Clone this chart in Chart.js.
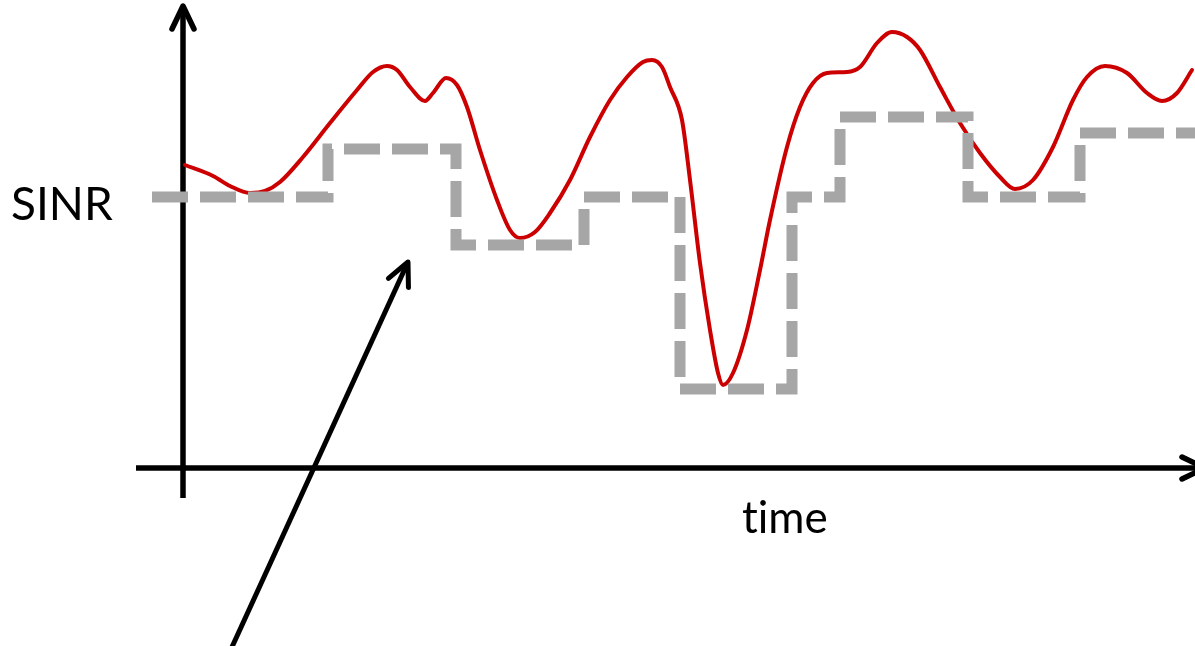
<!DOCTYPE html>
<html>
<head>
<meta charset="utf-8">
<script src="https://cdn.jsdelivr.net/npm/chart.js@4/dist/chart.umd.min.js"></script>
<style>
  html, body { margin: 0; padding: 0; background: #fff; overflow: hidden; }
  #wrap { position: relative; width: 1195px; height: 646px; }
  .lbl { position: absolute; font-family: Lato, "Open Sans", sans-serif; color: #000; line-height: 1; white-space: nowrap; font-variant-ligatures: none; font-feature-settings: "liga" 0, "clig" 0; }
</style>
</head>
<body>
<div id="wrap">
  <canvas id="myChart" width="1195" height="646"></canvas>
  <div class="lbl" style="left:11px; top:180px; font-size:46px;">SINR</div>
  <div class="lbl" style="left:742px; top:494px; font-size:44px;">time</div>
</div>
<script>
// measured SINR (red curve)
const sinrTime = [0.2, 3.0, 4.7, 6.7, 8.2, 9.7, 12.0, 14.7, 17.4, 19.0, 20.4, 21.4, 22.7, 24.2, 25.0, 26.3, 27.4, 28.4, 29.7, 31.4, 32.7, 33.7, 35.2, 36.7, 38.7, 40.7, 42.7, 44.4, 46.0, 46.9, 47.9, 48.7, 49.9, 50.7, 51.7, 52.7, 53.5, 54.0, 55.0, 56.4, 57.7, 58.7, 60.4, 61.7, 63.0, 64.4, 66.4, 67.7, 69.4, 70.9, 72.4, 73.7, 75.7, 77.7, 79.7, 81.7, 83.2, 85.0, 87.0, 89.0, 90.4, 92.2, 94.4, 96.4, 97.9, 99.4, 100.9];
const sinrValues = [30.3, 29.2, 28.2, 27.5, 27.7, 28.6, 31.1, 34.5, 37.8, 39.6, 40.2, 39.8, 38.1, 36.7, 37.5, 39.0, 38.3, 36.1, 31.8, 26.8, 23.8, 23.0, 23.6, 25.5, 28.8, 33.1, 36.8, 39.1, 40.6, 40.8, 40.1, 38.1, 34.8, 28.8, 20.5, 13.8, 9.5, 8.3, 9.5, 13.8, 19.8, 24.8, 32.1, 36.1, 38.5, 39.5, 39.6, 40.1, 42.5, 43.6, 43.1, 41.8, 38.1, 34.5, 31.5, 29.1, 27.9, 28.8, 32.1, 36.8, 39.1, 40.2, 39.5, 37.5, 36.7, 37.5, 39.8];

// estimated SINR (gray step line): time of change, new level
const stepTime = [-3.1, 14.5, 27.3, 40.1, 49.7, 60.9, 65.7, 78.5, 89.7, 101.2];
const stepValues = [27.1, 31.9, 22.3, 27.1, 7.9, 27.1, 35.1, 27.1, 33.5, 33.5];

const toXY = (xs, ys) => xs.map((x, i) => ({ x: x, y: ys[i] }));

function arrow(ctx, x0, y0, x1, y1) {
  const dx = x1 - x0, dy = y1 - y0;
  const len = Math.hypot(dx, dy);
  const ux = dx / len, uy = dy / len;
  const back = 23, side = 11;
  ctx.lineCap = "butt";
  ctx.beginPath();
  ctx.moveTo(x0, y0);
  ctx.lineTo(x1 - ux * 2, y1 - uy * 2);
  ctx.stroke();
  ctx.lineCap = "round";
  ctx.beginPath();
  ctx.moveTo(x1 - ux * back - uy * side, y1 - uy * back + ux * side);
  ctx.lineTo(x1, y1);
  ctx.lineTo(x1 - ux * back + uy * side, y1 - uy * back - ux * side);
  ctx.stroke();
}

// axes with arrow heads + the pointer arrow, drawn under the lines
const sketchAxes = {
  id: "sketchAxes",
  beforeDatasetsDraw(chart) {
    const { ctx, scales: { x, y } } = chart;
    ctx.save();
    ctx.strokeStyle = "#000";
    ctx.lineJoin = "round";
    ctx.lineWidth = 5.5;
    arrow(ctx, x.getPixelForValue(0), y.getPixelForValue(-3), x.getPixelForValue(0), y.getPixelForValue(46.2));
    arrow(ctx, x.getPixelForValue(-4.7), y.getPixelForValue(0), x.getPixelForValue(102.2), y.getPixelForValue(0));
    ctx.lineWidth = 5;
    arrow(ctx, x.getPixelForValue(4.9), y.getPixelForValue(-17.9), x.getPixelForValue(22.5), y.getPixelForValue(20.6));
    ctx.restore();
  }
};

const ctx = document.getElementById("myChart").getContext("2d");
const myChart = new Chart(ctx, {
  type: "line",
  data: {
    datasets: [
      {
        label: "estimate",
        data: toXY(stepTime, stepValues),
        borderColor: "#a6a6a6",
        borderWidth: 11,
        borderDash: [36, 12],
        borderCapStyle: "butt",
        borderJoinStyle: "miter",
        stepped: "before",
        pointRadius: 0,
        fill: false,
      },
      {
        label: "SINR",
        data: toXY(sinrTime, sinrValues),
        borderColor: "#cc0000",
        borderWidth: 4,
        borderCapStyle: "round",
        cubicInterpolationMode: "monotone",
        pointRadius: 0,
        fill: false,
      },
    ],
  },
  options: {
    responsive: false,
    animation: false,
    devicePixelRatio: 1,
    layout: { padding: 0 },
    plugins: { legend: { display: false }, tooltip: { enabled: false } },
    scales: {
      x: { type: "linear", min: -18.3, max: 101.2, display: false },
      y: { type: "linear", min: -17.8, max: 46.8, display: false },
    },
  },
  plugins: [sketchAxes],
});
</script>
</body>
</html>
